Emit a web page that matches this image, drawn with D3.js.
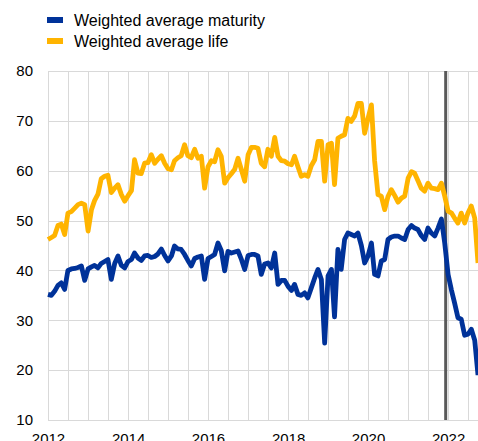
<!DOCTYPE html>
<html>
<head>
  <meta charset="utf-8">
  <style type="text/css">
    body { margin: 0; background: #fff; }
    svg { font-family: "Liberation Sans", Arial, sans-serif; }
    .grid line { stroke: #d9d9d9; stroke-width: 1; }
    .axis text { font-size: 15px; fill: #000; }
    .axis path { display: none; }
  </style>
  <script src="https://d3js.org/d3.v7.min.js"></script>
</head>
<body>
<script type="text/javascript">
  "use strict";

  // monthly observations, Jan 2012 onwards
  var firstMonth = new Date(2012, 0, 1);
  var maturity = [
    35.2, 35.0, 35.8, 37.0, 37.5, 36.2, 40.0, 40.3, 40.4, 40.6, 40.9, 38.0,
    40.3, 40.7, 41.0, 40.5, 41.4, 41.8, 42.2, 38.2, 41.4, 42.9, 41.0, 40.5,
    41.8, 42.2, 43.5, 42.5, 42.0, 42.9, 43.0, 42.6, 42.8, 43.3, 44.3, 43.0,
    41.9, 42.9, 44.9, 44.3, 44.2, 43.2, 42.0, 40.9, 42.4, 42.7, 42.9, 38.2,
    42.4, 42.8, 43.2, 45.5, 44.0, 39.9, 43.8, 43.5, 43.7, 43.9, 42.2, 40.2,
    43.0, 43.2, 43.2, 42.9, 39.2, 41.3, 41.5, 40.5, 43.5, 37.2, 38.0, 38.0,
    36.8, 36.0, 37.2, 35.2, 35.0, 35.5, 34.5, 36.5, 38.5, 40.2, 38.2, 25.4,
    38.9, 40.2, 30.7, 44.2, 40.2, 46.2, 47.5, 47.2, 46.9, 47.5, 45.0, 41.5,
    42.9, 45.5, 39.2, 38.9, 41.9, 42.2, 46.2, 46.7, 46.9, 46.9, 46.5, 46.2,
    48.2, 49.0, 48.5, 48.2, 47.0, 46.2, 48.5, 47.5, 46.9, 48.5, 50.3, 45.5,
    39.2, 36.0, 33.5, 30.5, 30.2, 27.0, 27.2, 28.2, 26.0, 19.0
  ];
  var life = [
    46.2, 46.6, 47.0, 49.0, 49.3, 47.2, 51.5, 51.8, 52.5, 53.2, 53.5, 53.2,
    47.9, 52.2, 54.0, 55.3, 58.4, 58.9, 59.1, 55.6, 56.5, 57.2, 55.2, 53.9,
    55.0, 56.0, 62.2, 59.5, 59.4, 61.5, 61.6, 63.2, 61.5, 62.3, 63.0, 61.5,
    60.4, 60.2, 62.0, 62.6, 63.0, 65.2, 63.0, 62.6, 64.3, 62.5, 62.9, 56.5,
    60.8, 62.0, 61.8, 64.2, 62.9, 57.5, 58.6, 59.4, 60.3, 62.5, 60.2, 57.9,
    63.2, 64.7, 64.7, 64.5, 61.5, 60.8, 64.3, 62.9, 66.7, 62.9, 62.0, 61.9,
    61.4, 61.2, 62.9, 60.8, 58.9, 59.2, 58.9, 61.0, 62.2, 65.9, 65.9, 57.9,
    65.2, 65.5, 57.2, 66.5, 66.9, 67.2, 70.5, 69.9, 71.0, 73.5, 73.5, 67.5,
    70.5, 73.2, 62.0, 55.2, 54.9, 52.2, 54.8, 56.2, 55.0, 53.7, 54.5, 54.9,
    58.5, 59.8, 59.5, 58.0, 56.5, 55.9, 57.5, 56.5, 56.4, 56.2, 57.5, 54.9,
    51.9, 51.5, 50.5, 49.5, 51.5, 49.5, 51.5, 52.9, 50.5, 41.5
  ];
  var seriesNames = ["Weighted average maturity", "Weighted average life"];
  var seriesColors = ["#003299", "#ffb400"];
  var yTicks = [10, 20, 30, 40, 50, 60, 70, 80];
  var xTickYears = [2012, 2014, 2016, 2018, 2020, 2022];
  var markerDate = new Date(2021, 11, 10);

  var width = 478, height = 441;
  var margin = {top: 71, right: 0, bottom: 21, left: 48};

  var dates = maturity.map(function(d, i) { return d3.timeMonth.offset(firstMonth, i); });

  var x = d3.scaleTime()
      .domain([firstMonth, dates[dates.length - 1]])
      .range([margin.left, width - margin.right]);
  var y = d3.scaleLinear()
      .domain([10, 80])
      .range([height - margin.bottom, margin.top]);

  var svg = d3.select("body").append("svg")
      .attr("width", width)
      .attr("height", height);

  // grid
  var grid = svg.append("g").attr("class", "grid");
  var halfYears = d3.timeMonth.every(6).range(firstMonth, dates[dates.length - 1]);
  grid.selectAll("line.v")
      .data(halfYears)
    .enter().append("line")
      .attr("class", "v")
      .attr("x1", function(d) { return Math.round(x(d)) + 0.5; })
      .attr("x2", function(d) { return Math.round(x(d)) + 0.5; })
      .attr("y1", y(80))
      .attr("y2", y(10));
  grid.selectAll("line.h")
      .data(yTicks)
    .enter().append("line")
      .attr("class", "h")
      .attr("x1", margin.left)
      .attr("x2", width)
      .attr("y1", function(d) { return Math.round(y(d)) + 0.5; })
      .attr("y2", function(d) { return Math.round(y(d)) + 0.5; });

  // vertical marker
  svg.append("line")
      .attr("x1", x(markerDate))
      .attr("x2", x(markerDate))
      .attr("y1", y(80))
      .attr("y2", y(10))
      .attr("stroke", "#595959")
      .attr("stroke-width", 3);

  var line = d3.line()
      .x(function(d, i) { return x(dates[i]); })
      .y(function(d) { return y(d); });

  [life, maturity].forEach(function(s) {
    svg.append("path")
        .datum(s)
        .attr("fill", "none")
        .attr("stroke", s === life ? seriesColors[1] : seriesColors[0])
        .attr("stroke-width", 4.8)
        .attr("stroke-linejoin", "round")
        .attr("d", line);
  });

  // axes
  svg.append("g")
      .attr("class", "axis")
      .attr("transform", "translate(" + margin.left + ",0)")
      .call(d3.axisLeft(y).tickValues(yTicks).tickSize(0).tickPadding(15));

  svg.append("g")
      .attr("class", "axis")
      .attr("transform", "translate(0," + y(10) + ")")
      .call(d3.axisBottom(x)
        .tickValues(xTickYears.map(function(yr) { return new Date(yr, 0, 1); }))
        .tickFormat(d3.timeFormat("%Y"))
        .tickSize(0)
        .tickPadding(13));

  // legend
  var legend = svg.append("g");
  seriesNames.forEach(function(name, i) {
    var g = legend.append("g").attr("transform", "translate(47," + (20 + i * 21) + ")");
    g.append("rect")
        .attr("x", 0).attr("y", -3)
        .attr("width", 16).attr("height", 6)
        .attr("fill", seriesColors[i]);
    g.append("text")
        .attr("x", 27)
        .attr("dy", "0.35em")
        .style("font-size", "16px")
        .attr("fill", "#000")
        .text(name);
  });
</script>
</body>
</html>
